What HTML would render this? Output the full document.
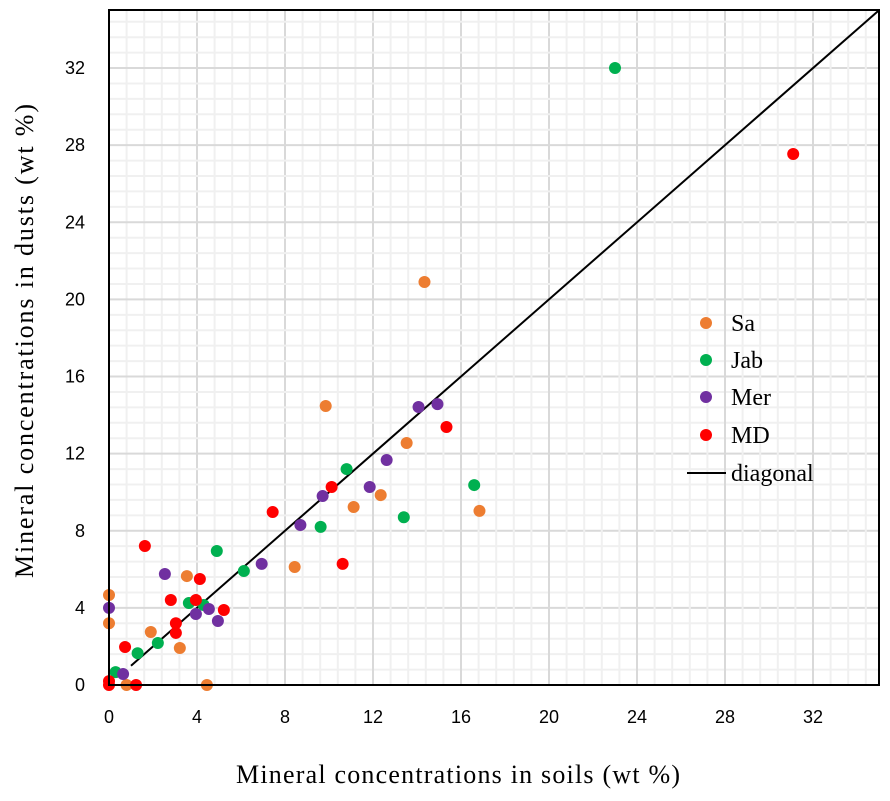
<!DOCTYPE html>
<html><head><meta charset="utf-8"><style>
body{margin:0;background:#fff;}
svg{display:block;}
</style></head><body>
<svg id="chart" width="890" height="801" xmlns="http://www.w3.org/2000/svg">
<g id="grid"></g>
<line id="diag" stroke="#000" stroke-width="2"/>
<g id="pts"></g>
<rect x="109" y="10" width="770" height="675" fill="none" stroke="#000" stroke-width="2"/>
<g id="ticks" font-family="Liberation Sans, sans-serif" font-size="18" fill="#000"></g>
<text x="458" y="783" text-anchor="middle" font-family="Liberation Serif, serif" font-size="26" textLength="444" lengthAdjust="spacing">Mineral concentrations  in soils (wt %)</text>
<text transform="translate(33,341) rotate(-90)" text-anchor="middle" font-family="Liberation Serif, serif" font-size="26" textLength="474" lengthAdjust="spacing">Mineral concentrations  in dusts (wt %)</text>
<g id="legend" font-family="Liberation Serif, serif" font-size="24"></g>
</svg>
<script>
const ticks = [0,4,8,12,16,20,24,28,32];
const seriesNames = ["Sa","Jab","Mer","MD"];
const seriesColors = ["#ED7D31","#00B050","#7030A0","#FF0000"];
const saX = [14.34,9.85,13.53,12.35,11.12,16.84,8.44,3.54,1.9,3.22,0,0,0.8,4.45];
const saY = [20.9,14.47,12.55,9.85,9.23,9.03,6.12,5.65,2.75,1.92,4.67,3.2,0,0];
const jabX = [23.0,16.6,10.8,13.4,9.62,4.9,6.13,3.63,4.3,2.22,1.3,0.3];
const jabY = [32.0,10.37,11.2,8.7,8.2,6.95,5.91,4.25,4.15,2.18,1.65,0.67];
const merX = [14.07,14.93,12.62,11.85,9.71,8.7,6.94,2.54,0,3.95,4.54,4.95,0.64];
const merY = [14.42,14.57,11.67,10.27,9.8,8.3,6.28,5.76,4.0,3.68,3.94,3.32,0.57];
const mdX = [31.1,15.34,10.12,7.44,10.62,1.63,4.13,2.81,3.95,5.22,3.04,3.04,0.73,1.23,0,0];
const mdY = [27.54,13.38,10.27,8.97,6.28,7.21,5.5,4.41,4.41,3.89,3.2,2.7,1.97,0,0.2,0];
const xs = [saX,jabX,merX,mdX], ys=[saY,jabY,merY,mdY];
const NS="http://www.w3.org/2000/svg";
const X0=109,XU=22.0,Y0=685,YU=19.28,MAX=35;
const sx=v=>X0+v*XU, sy=v=>Y0-v*YU;
function mk(t,a){const e=document.createElementNS(NS,t);for(const k in a)e.setAttribute(k,a[k]);return e;}
const grid=document.getElementById('grid');
for(let v=0.8;v<MAX;v+=0.8){
  const maj=Math.abs(v/4-Math.round(v/4))<0.01;
  let l=mk('line',{x1:sx(v),x2:sx(v),y1:10,y2:685,stroke:maj?'#d9d9d9':'#f0f0f0','stroke-width':2});
  
  
  grid.appendChild(l);
  let h=mk('line',{x1:109,x2:879,y1:sy(v),y2:sy(v),stroke:maj?'#d9d9d9':'#f0f0f0','stroke-width':2});
  
  
  grid.appendChild(h);
}
const d=document.getElementById('diag');
d.setAttribute('x1',sx(1));d.setAttribute('y1',sy(1));d.setAttribute('x2',sx(MAX));d.setAttribute('y2',sy(MAX));
const tg=document.getElementById('ticks');
ticks.forEach(t=>{
  let a=mk('text',{x:sx(t),y:723,'text-anchor':'middle'});a.textContent=t;
  
  
  tg.appendChild(a);
  let b=mk('text',{x:85,y:sy(t)+6,'text-anchor':'end'});b.textContent=t;
  
  
  tg.appendChild(b);
});
const pg=document.getElementById('pts');
xs.forEach((arr,i)=>arr.forEach((x,j)=>{
  let c=mk('circle',{cx:sx(x),cy:sy(ys[i][j]),r:6,fill:seriesColors[i]});
  
  
  pg.appendChild(c);
}));
const lg=document.getElementById('legend');
const ly=[323,360,397,435];
seriesNames.forEach((n,i)=>{
  let c=mk('circle',{cx:706,cy:ly[i],r:6,fill:seriesColors[i]});
  
  
  lg.appendChild(c);
  let t=mk('text',{x:731,y:ly[i]+8});t.textContent=n;
  
  
  lg.appendChild(t);
});
let ll=mk('line',{x1:687,x2:726,y1:473,y2:473,stroke:'#000','stroke-width':2});


lg.appendChild(ll);
let lt=mk('text',{x:731,y:481});lt.textContent='diagonal';


lg.appendChild(lt);
</script>
</body></html>
